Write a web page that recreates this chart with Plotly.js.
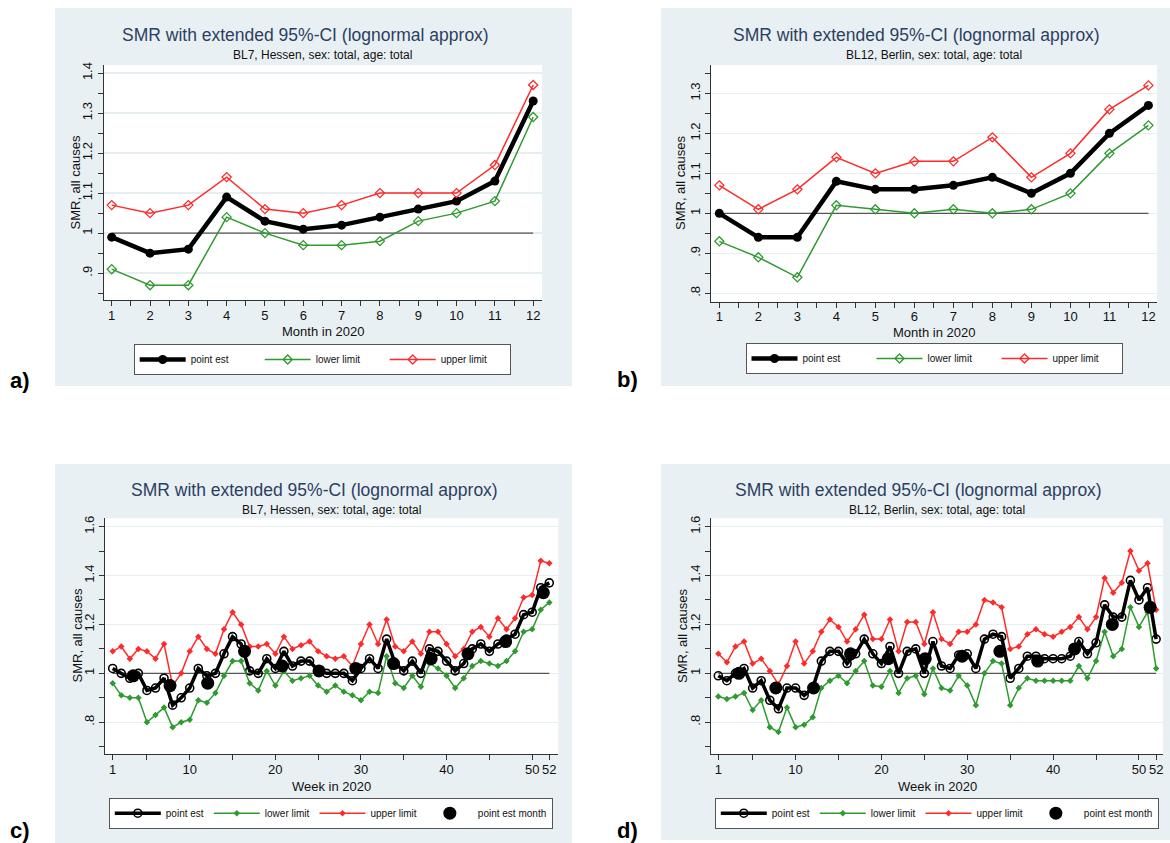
<!DOCTYPE html>
<html>
<head>
<meta charset="utf-8">
<script src="https://cdn.plot.ly/plotly-3.0.1.min.js"></script>
<style>
html, body { margin: 0; padding: 0; background: #ffffff; }
#chart { width: 1170px; height: 843px; }
</style>
</head>
<body>
<div id="chart"></div>
<script>
// ---------------- DATA ----------------
const months = [1, 2, 3, 4, 5, 6, 7, 8, 9, 10, 11, 12];
const monthTickLabels = ['1', '2', '3', '4', '5', '6', '7', '8', '9', '10', '11', '12'];
const weeks = [1,2,3,4,5,6,7,8,9,10,11,12,13,14,15,16,17,18,19,20,21,22,23,24,25,26,
               27,28,29,30,31,32,33,34,35,36,37,38,39,40,41,42,43,44,45,46,47,48,49,50,51,52];
const weekTickVals = [1, 10, 20, 30, 40, 50, 52];
const weekTickLabels = ['1', '10', '20', '30', '40', '50', '52'];
// week position at which each monthly estimate is plotted in the weekly charts
const monthWeek = [3.4, 7.7, 12.1, 16.4, 20.8, 25.1, 29.4, 33.8, 38.2, 42.5, 46.9, 51.3];
const referenceSMR = 1;

// a) Hessen, monthly
const hessenMonthPoint = [0.99, 0.95, 0.96, 1.09, 1.03, 1.01, 1.02, 1.04, 1.06, 1.08, 1.13, 1.33];
const hessenMonthLower = [0.91, 0.87, 0.87, 1.04, 1.00, 0.97, 0.97, 0.98, 1.03, 1.05, 1.08, 1.29];
const hessenMonthUpper = [1.07, 1.05, 1.07, 1.14, 1.06, 1.05, 1.07, 1.10, 1.10, 1.10, 1.17, 1.37];

// b) Berlin, monthly
const berlinMonthPoint = [1.00, 0.94, 0.94, 1.08, 1.06, 1.06, 1.07, 1.09, 1.05, 1.10, 1.20, 1.27];
const berlinMonthLower = [0.93, 0.89, 0.84, 1.02, 1.01, 1.00, 1.01, 1.00, 1.01, 1.05, 1.15, 1.22];
const berlinMonthUpper = [1.07, 1.01, 1.06, 1.14, 1.10, 1.13, 1.13, 1.19, 1.09, 1.15, 1.26, 1.32];

// c) Hessen, weekly
const hessenWeekPoint = [1.02, 1.00, 0.98, 1.00, 0.93, 0.94, 0.98, 0.87, 0.90, 0.94, 1.02, 0.99, 1.00,
                         1.08, 1.15, 1.12, 1.01, 1.00, 1.06, 1.02, 1.09, 1.03, 1.05, 1.05, 1.01, 1.00,
                         1.00, 1.00, 0.97, 1.02, 1.06, 1.02, 1.14, 1.04, 1.01, 1.05, 1.00, 1.10, 1.09,
                         1.05, 1.01, 1.04, 1.10, 1.12, 1.09, 1.12, 1.14, 1.16, 1.24, 1.25, 1.35, 1.37];
const hessenWeekLower = [0.96, 0.91, 0.90, 0.90, 0.80, 0.83, 0.86, 0.78, 0.80, 0.81, 0.89, 0.88, 0.92,
                         0.99, 1.05, 1.05, 0.96, 0.93, 1.01, 0.95, 1.01, 0.97, 0.98, 0.99, 0.95, 0.925,
                         0.95, 0.925, 0.91, 0.89, 0.925, 0.92, 1.07, 0.96, 0.94, 0.99, 0.945, 1.04, 1.02,
                         0.99, 0.94, 0.98, 1.03, 1.05, 1.04, 1.03, 1.05, 1.09, 1.17, 1.18, 1.26, 1.29];
const hessenWeekUpper = [1.09, 1.11, 1.06, 1.10, 1.09, 1.06, 1.12, 0.95, 1.00, 1.09, 1.15, 1.10, 1.08,
                         1.18, 1.25, 1.20, 1.11, 1.11, 1.12, 1.08, 1.15, 1.10, 1.115, 1.13, 1.09, 1.07,
                         1.06, 1.07, 1.03, 1.12, 1.20, 1.12, 1.22, 1.11, 1.09, 1.13, 1.08, 1.17, 1.17,
                         1.12, 1.07, 1.10, 1.17, 1.19, 1.15, 1.225, 1.18, 1.225, 1.31, 1.32, 1.46, 1.45];

// d) Berlin, weekly
const berlinWeekPoint = [0.99, 0.97, 1.00, 1.02, 0.94, 0.97, 0.89, 0.855, 0.94, 0.94, 0.91, 0.94, 1.05,
                         1.09, 1.09, 1.04, 1.08, 1.14, 1.08, 1.04, 1.11, 1.00, 1.09, 1.10, 1.00, 1.13,
                         1.03, 1.02, 1.075, 1.08, 1.02, 1.14, 1.16, 1.15, 0.98, 1.02, 1.07, 1.07, 1.06,
                         1.06, 1.06, 1.07, 1.13, 1.08, 1.125, 1.28, 1.23, 1.23, 1.38, 1.30, 1.35, 1.14];
const berlinWeekLower = [0.905, 0.895, 0.905, 0.92, 0.85, 0.89, 0.78, 0.76, 0.86, 0.78, 0.79, 0.82, 0.94,
                         0.97, 0.99, 0.96, 1.01, 1.05, 0.95, 0.945, 1.01, 0.92, 0.98, 0.99, 0.915, 1.02,
                         0.94, 0.93, 0.99, 0.95, 0.87, 1.00, 1.05, 1.04, 0.87, 0.94, 0.98, 0.97, 0.97,
                         0.97, 0.97, 0.97, 1.03, 0.98, 1.05, 1.17, 1.07, 1.10, 1.27, 1.19, 1.25, 1.02];
const berlinWeekUpper = [1.08, 1.045, 1.11, 1.13, 1.04, 1.06, 1.01, 0.955, 1.03, 1.13, 1.04, 1.09, 1.17,
                         1.22, 1.19, 1.13, 1.18, 1.24, 1.14, 1.14, 1.22, 1.09, 1.21, 1.21, 1.12, 1.25,
                         1.14, 1.12, 1.17, 1.17, 1.20, 1.30, 1.29, 1.27, 1.10, 1.11, 1.16, 1.18, 1.16,
                         1.15, 1.17, 1.19, 1.23, 1.18, 1.23, 1.39, 1.33, 1.37, 1.50, 1.42, 1.45, 1.26];

// tick labels
const yTickValsMonthA = [0.9, 1.0, 1.1, 1.2, 1.3, 1.4];
const yTickTextMonthA = ['.9', '1', '1.1', '1.2', '1.3', '1.4'];
const yTickValsMonthB = [0.8, 0.9, 1.0, 1.1, 1.2, 1.3];
const yTickTextMonthB = ['.8', '.9', '1', '1.1', '1.2', '1.3'];
const yTickValsWeek = [0.8, 1.0, 1.2, 1.4, 1.6];
const yTickTextWeek = ['.8', '1', '1.2', '1.4', '1.6'];

const mainTitle = 'SMR with extended 95%-CI (lognormal approx)';
const subHessen = 'BL7, Hessen, sex: total, age: total';
const subBerlin = 'BL12, Berlin, sex: total, age: total';
const yTitle = 'SMR, all causes';
const xTitleMonth = 'Month in 2020';
const xTitleWeek = 'Week in 2020';

// ---------------- STYLE ----------------
const W = 1170, H = 843;
const FONT = 'Liberation Sans, Arial, Helvetica, sans-serif';
const BG = '#e9f0f3';
const GRID = '#e6eef1';
const AXIS = '#333333';
const GREEN = '#2f9a2f';
const RED = '#ff2a2a';
const TITLECOL = '#2b3f62';
const px = v => v / W;
const py = v => 1 - v / H;

// ---------------- TRACES ----------------
const traces = [];
function refTrace(xa, ya, xs) {
  traces.push({x: [xs[0], xs[xs.length - 1]], y: [referenceSMR, referenceSMR], xaxis: xa, yaxis: ya,
    mode: 'lines', line: {color: '#555555', width: 1.2}, showlegend: false, hoverinfo: 'skip'});
}
function monthlyTraces(xa, ya, lg, point, lower, upper) {
  refTrace(xa, ya, months);
  traces.push({x: months, y: point, xaxis: xa, yaxis: ya, legend: lg, name: 'point est',
    mode: 'lines+markers', line: {color: '#000', width: 4.5},
    marker: {color: '#000', size: 9, symbol: 'circle'}});
  traces.push({x: months, y: lower, xaxis: xa, yaxis: ya, legend: lg, name: 'lower limit',
    mode: 'lines+markers', line: {color: GREEN, width: 1.5},
    marker: {color: GREEN, size: 7, symbol: 'diamond-open', line: {width: 1.3, color: GREEN}}});
  traces.push({x: months, y: upper, xaxis: xa, yaxis: ya, legend: lg, name: 'upper limit',
    mode: 'lines+markers', line: {color: RED, width: 1.5},
    marker: {color: RED, size: 7, symbol: 'diamond-open', line: {width: 1.3, color: RED}}});
}
function weeklyTraces(xa, ya, lg, point, lower, upper, monthPoint) {
  refTrace(xa, ya, weeks);
  traces.push({x: weeks, y: point, xaxis: xa, yaxis: ya, legend: lg, name: 'point est',
    mode: 'lines+markers', line: {color: '#000', width: 3.5},
    marker: {color: '#000', size: 8, symbol: 'circle-open', line: {width: 1.6, color: '#000'}}});
  traces.push({x: weeks, y: lower, xaxis: xa, yaxis: ya, legend: lg, name: 'lower limit',
    mode: 'lines+markers', line: {color: GREEN, width: 1.5},
    marker: {color: GREEN, size: 5, symbol: 'diamond'}});
  traces.push({x: weeks, y: upper, xaxis: xa, yaxis: ya, legend: lg, name: 'upper limit',
    mode: 'lines+markers', line: {color: RED, width: 1.5},
    marker: {color: RED, size: 5, symbol: 'diamond'}});
  traces.push({x: monthWeek, y: monthPoint, xaxis: xa, yaxis: ya, legend: lg, name: 'point est month',
    mode: 'markers', marker: {color: '#000', size: 13, symbol: 'circle'}});
}
monthlyTraces('x', 'y', 'legend', hessenMonthPoint, hessenMonthLower, hessenMonthUpper);
monthlyTraces('x2', 'y2', 'legend2', berlinMonthPoint, berlinMonthLower, berlinMonthUpper);
weeklyTraces('x3', 'y3', 'legend3', hessenWeekPoint, hessenWeekLower, hessenWeekUpper, hessenMonthPoint);
weeklyTraces('x4', 'y4', 'legend4', berlinWeekPoint, berlinWeekLower, berlinWeekUpper, berlinMonthPoint);

// ---------------- AXES ----------------
function xAxis(domain, anchor, range, tickvals, ticktext, minorVals) {
  return {
    domain: domain, anchor: anchor, range: range,
    tickmode: 'array', tickvals: tickvals, ticktext: ticktext,
    ticks: 'outside', ticklen: 5, tickwidth: 1, tickcolor: AXIS, ticklabelstandoff: -2,
    minor: {tickmode: 'array', tickvals: minorVals, ticks: 'outside', ticklen: 5, tickwidth: 1,
            tickcolor: AXIS, showgrid: false},
    showline: true, linecolor: AXIS, linewidth: 1, showgrid: false, zeroline: false,
    tickfont: {family: FONT, size: 13, color: '#111'},
    fixedrange: true
  };
}
function yAxis(domain, anchor, range, tickvals, ticktext, minorVals) {
  return {
    domain: domain, anchor: anchor, range: range,
    tickmode: 'array', tickvals: tickvals, ticktext: ticktext, tickangle: -90,
    ticks: 'outside', ticklen: 5, tickwidth: 1, tickcolor: AXIS,
    minor: {tickmode: 'array', tickvals: minorVals, ticks: 'outside', ticklen: 5, tickwidth: 1,
            tickcolor: AXIS, showgrid: false},
    showline: true, linecolor: AXIS, linewidth: 1,
    showgrid: true, gridcolor: GRID, gridwidth: 1.5, zeroline: false,
    tickfont: {family: FONT, size: 13, color: '#111'},
    fixedrange: true
  };
}
const monthMinor = [1.5, 2.5, 3.5, 4.5, 5.5, 6.5, 7.5, 8.5, 9.5, 10.5, 11.5];
const weekMinor = [5, 15, 25, 35, 45];

function legendCfg(cx, top, entrywidth) {
  return {
    orientation: 'h', x: px(cx), xanchor: 'center', y: py(top), yanchor: 'top',
    bgcolor: '#ffffff', bordercolor: '#555555', borderwidth: 1,
    font: {family: FONT, size: 10, color: '#111'},
    itemwidth: 46, entrywidth: entrywidth, entrywidthmode: 'pixels',
    traceorder: 'normal', itemclick: false, itemdoubleclick: false
  };
}

// ---------------- SHAPES & ANNOTATIONS ----------------
const shapes = [];
function panelBg(x0, y0, x1, y1) {
  shapes.push({type: 'rect', xref: 'paper', yref: 'paper', x0: px(x0), x1: px(x1), y0: py(y1), y1: py(y0),
               fillcolor: BG, line: {width: 0}, layer: 'below'});
}
panelBg(55, 8, 572, 386);
panelBg(661, 8, 1170, 386);
panelBg(55, 464, 572, 843);
panelBg(661, 464, 1170, 840);
function plotWhite(xa, ya) {
  shapes.push({type: 'rect', xref: xa + ' domain', yref: ya + ' domain', x0: 0, x1: 1, y0: 0, y1: 1,
               fillcolor: '#ffffff', line: {width: 0}, layer: 'below'});
}
plotWhite('x', 'y');
plotWhite('x2', 'y2');
plotWhite('x3', 'y3');
plotWhite('x4', 'y4');

const annotations = [];
function txt(text, cx, cy, size, color, bold, angle) {
  annotations.push({text: bold ? '<b>' + text + '</b>' : text, xref: 'paper', yref: 'paper',
    x: px(cx), y: py(cy), xanchor: 'center', yanchor: 'middle', showarrow: false,
    textangle: angle || 0,
    font: {family: FONT, size: size, color: color}});
}
txt(mainTitle, 305, 35, 17.5, TITLECOL);
txt(subHessen, 322.7, 55, 12, '#111');
txt(mainTitle, 916, 35, 17.5, TITLECOL);
txt(subBerlin, 934, 55, 12, '#111');
txt(mainTitle, 314, 490, 17.5, TITLECOL);
txt(subHessen, 331.6, 510, 12, '#111');
txt(mainTitle, 918, 490, 17.5, TITLECOL);
txt(subBerlin, 937, 510, 12, '#111');
// axis titles
txt(xTitleMonth, 322.7, 331.5, 13, '#111');
txt(xTitleMonth, 934, 332, 13, '#111');
txt(xTitleWeek, 331.6, 786, 13, '#111');
txt(xTitleWeek, 937, 786, 13, '#111');
txt(yTitle, 75, 182.5, 13, '#111', false, -90);
txt(yTitle, 681, 183, 13, '#111', false, -90);
txt(yTitle, 76.5, 636, 13, '#111', false, -90);
txt(yTitle, 682, 636, 13, '#111', false, -90);
// panel labels
txt('a)', 20, 380, 22, '#000', true);
txt('b)', 627, 379, 22, '#000', true);
txt('c)', 20, 830, 22, '#000', true);
txt('d)', 627, 830, 22, '#000', true);

// ---------------- LAYOUT ----------------
const layout = {
  width: W, height: H,
  margin: {l: 0, r: 0, t: 0, b: 0},
  paper_bgcolor: '#ffffff', plot_bgcolor: '#ffffff',
  font: {family: FONT, color: '#111'},
  showlegend: true,
  xaxis: xAxis([px(103.5), px(542)], 'y', [0.786, 12.23], months, monthTickLabels, monthMinor),
  yaxis: yAxis([py(300), py(65)], 'x', [0.833, 1.42], yTickValsMonthA, yTickTextMonthA,
               [0.85, 0.95, 1.05, 1.15, 1.25, 1.35]),
  xaxis2: xAxis([px(711), px(1157)], 'y2', [0.787, 12.22], months, monthTickLabels, monthMinor),
  yaxis2: yAxis([py(301.7), py(65)], 'x2', [0.779, 1.371], yTickValsMonthB, yTickTextMonthB,
                [0.85, 0.95, 1.05, 1.15, 1.25, 1.35]),
  xaxis3: xAxis([px(105), px(558.3)], 'y3', [0.103, 53.05], weekTickVals, weekTickLabels, weekMinor),
  yaxis3: yAxis([py(754.3), py(518.3)], 'x3', [0.669, 1.634], yTickValsWeek, yTickTextWeek,
                [0.7, 0.9, 1.1, 1.3, 1.5]),
  xaxis4: xAxis([px(711), px(1163)], 'y4', [0.15, 52.8], weekTickVals, weekTickLabels, weekMinor),
  yaxis4: yAxis([py(754.3), py(518.3)], 'x4', [0.669, 1.634], yTickValsWeek, yTickTextWeek,
                [0.7, 0.9, 1.1, 1.3, 1.5]),
  legend: legendCfg(322.2, 344, 64),
  legend2: legendCfg(934, 343, 64),
  legend3: legendCfg(330.8, 797.7, 0),
  legend4: legendCfg(936.8, 797.7, 0),
  shapes: shapes,
  annotations: annotations
};

Plotly.newPlot('chart', traces, layout, {staticPlot: true, displayModeBar: false});
</script>
</body>
</html>
